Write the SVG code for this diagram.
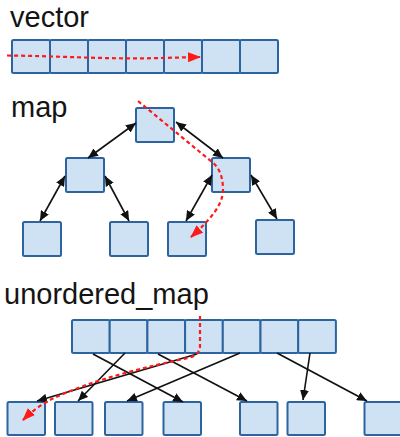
<svg xmlns="http://www.w3.org/2000/svg" width="400" height="437" viewBox="0 0 400 437">
  <style>
    .title { font-family: "Liberation Sans", Arial, sans-serif; font-size: 29px; fill: #141414; }
    .cell { fill: #cfe2f3; stroke: #2d64a0; stroke-width: 2; }
    .link { fill: none; stroke: #111; stroke-width: 1.6; }
    .walk { fill: none; stroke: #ff1a1a; stroke-width: 2.2; stroke-dasharray: 4 3; }
  </style>
  <defs>
    <marker id="head" markerUnits="userSpaceOnUse" markerWidth="10" markerHeight="9" refX="10" refY="4.5" orient="auto-start-reverse">
      <path d="M0,0 L10,4.5 L0,9 z" fill="#111"/>
    </marker>
    <marker id="redhead" markerUnits="userSpaceOnUse" markerWidth="13" markerHeight="10" refX="12" refY="5" orient="auto">
      <path d="M0,0 L13,5 L0,10 z" fill="#ff1a1a"/>
    </marker>
  </defs>

  <!-- vector -->
  <text class="title" x="10" y="27">vector</text>
  <g id="vector">
    <rect class="cell" x="12" y="40" width="38" height="33" rx="1.5"/>
    <rect class="cell" x="50" y="40" width="38" height="33" rx="1.5"/>
    <rect class="cell" x="88" y="40" width="38" height="33" rx="1.5"/>
    <rect class="cell" x="126" y="40" width="38" height="33" rx="1.5"/>
    <rect class="cell" x="164" y="40" width="38" height="33" rx="1.5"/>
    <rect class="cell" x="202" y="40" width="38" height="33" rx="1.5"/>
    <rect class="cell" x="240" y="40" width="38" height="33" rx="1.5"/>
  </g>

  <!-- map -->
  <text class="title" x="11" y="117">map</text>
  <g id="map-root"><rect class="cell" x="136" y="108" width="38" height="34" rx="1.5"/></g>
  <g id="map-left"><rect class="cell" x="66" y="158" width="38" height="34" rx="1.5"/></g>
  <g id="map-right"><rect class="cell" x="212" y="158" width="38" height="34" rx="1.5"/></g>
  <g id="map-leaf1"><rect class="cell" x="23" y="222" width="38" height="34" rx="1.5"/></g>
  <g id="map-leaf2"><rect class="cell" x="110" y="222" width="38" height="34" rx="1.5"/></g>
  <g id="map-leaf3"><rect class="cell" x="168" y="222" width="38" height="34" rx="1.5"/></g>
  <g id="map-leaf4"><rect class="cell" x="256" y="220" width="38" height="34" rx="1.5"/></g>

  <!-- unordered_map -->
  <text class="title" x="4" y="304">unordered_map</text>
  <g id="buckets">
    <rect class="cell" x="72" y="320" width="37.7" height="33" rx="1.5"/>
    <rect class="cell" x="109.7" y="320" width="37.7" height="33" rx="1.5"/>
    <rect class="cell" x="147.4" y="320" width="37.7" height="33" rx="1.5"/>
    <rect class="cell" x="185.1" y="320" width="37.7" height="33" rx="1.5"/>
    <rect class="cell" x="222.8" y="320" width="37.7" height="33" rx="1.5"/>
    <rect class="cell" x="260.5" y="320" width="37.7" height="33" rx="1.5"/>
    <rect class="cell" x="298.2" y="320" width="37.7" height="33" rx="1.5"/>
  </g>
  <g id="entry1"><rect class="cell" x="7.5" y="402" width="37.5" height="33" rx="1.5"/></g>
  <g id="entry2"><rect class="cell" x="55" y="402" width="37.5" height="33" rx="1.5"/></g>
  <g id="entry3"><rect class="cell" x="105" y="402" width="37.5" height="33" rx="1.5"/></g>
  <g id="entry4"><rect class="cell" x="163.5" y="402" width="37.5" height="33" rx="1.5"/></g>
  <g id="entry5"><rect class="cell" x="240" y="402" width="37.5" height="33" rx="1.5"/></g>
  <g id="entry6"><rect class="cell" x="287.5" y="402" width="37.5" height="33" rx="1.5"/></g>
  <g id="entry7"><rect class="cell" x="364.5" y="402" width="37.5" height="33" rx="1.5"/></g>

  <g id="connectors">
    <!-- tree links, both directions -->
    <line class="link" x1="136" y1="123" x2="88" y2="158" marker-start="url(#head)" marker-end="url(#head)"/>
    <line class="link" x1="176" y1="122" x2="223" y2="158" marker-start="url(#head)" marker-end="url(#head)"/>
    <line class="link" x1="65" y1="176" x2="40" y2="221" marker-start="url(#head)" marker-end="url(#head)"/>
    <line class="link" x1="105" y1="176" x2="129" y2="221" marker-start="url(#head)" marker-end="url(#head)"/>
    <line class="link" x1="212" y1="175" x2="186" y2="221" marker-start="url(#head)" marker-end="url(#head)"/>
    <line class="link" x1="251" y1="175" x2="277" y2="219" marker-start="url(#head)" marker-end="url(#head)"/>

    <!-- bucket to entry links -->
    <line class="link" x1="93" y1="354" x2="183" y2="402" marker-end="url(#head)"/>
    <line class="link" x1="125" y1="353" x2="78" y2="401" marker-end="url(#head)"/>
    <line class="link" x1="158" y1="354" x2="247" y2="401" marker-end="url(#head)"/>
    <line class="link" x1="240" y1="353" x2="127" y2="401" marker-end="url(#head)"/>
    <line class="link" x1="197" y1="354" x2="37" y2="401" marker-end="url(#head)"/>
    <line class="link" x1="277" y1="353" x2="367" y2="401" marker-end="url(#head)"/>
    <line class="link" x1="310" y1="353" x2="303" y2="400" marker-end="url(#head)"/>

    <!-- traversal paths -->
    <path class="walk" d="M7,55.5 C60,56 110,59.5 160,58 L200,57" marker-end="url(#redhead)"/>
    <path class="walk" d="M138,101 L212,162 C220,168 223,178 223,190 C223,205 210,220 191,237" marker-end="url(#redhead)"/>
    <path class="walk" d="M200,316 L200,346 Q200,355 188,358 C150,366 90,380 50,400 Q35,408 23,420" marker-end="url(#redhead)"/>
  </g>
</svg>
